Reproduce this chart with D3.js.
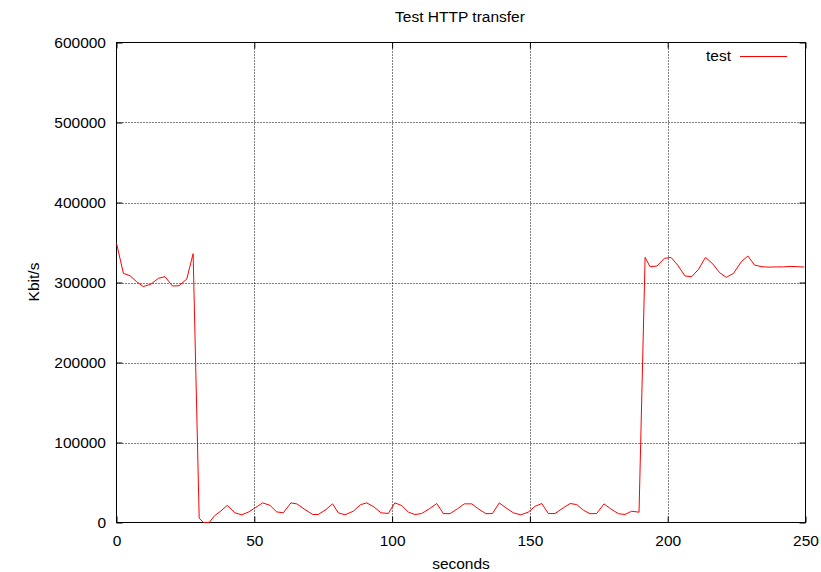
<!DOCTYPE html>
<html>
<head>
<meta charset="utf-8">
<script src="https://cdn.jsdelivr.net/npm/d3@7"></script>
<style>
  body { margin: 0; background: #fff; }
  svg { display: block; font-family: "Liberation Sans", Arial, sans-serif; }
</style>
</head>
<body>
<svg id="chart" width="821" height="572"></svg>
<script>
const title = "Test HTTP transfer";
const xLabel = "seconds";
const yLabel = "Kbit/s";
const seriesName = "test";
const xTicks = [0, 50, 100, 150, 200, 250];
const yTicks = [0, 100000, 200000, 300000, 400000, 500000, 600000];

const seconds = [0, 2.5, 4.9, 7.3, 9.7, 12.4, 15.2, 17.6, 20.3, 22.7, 25.5, 27.8, 30.0, 31.6, 33.6, 35.6, 37.9, 40.2, 43.0, 45.4, 47.8, 50.3, 53.0, 55.7, 58.1, 60.5, 63.3, 65.4, 68.4, 71.2, 73.2, 76.0, 78.4, 80.5, 82.9, 85.9, 88.6, 90.8, 93.4, 96.0, 98.6, 101.0, 103.5, 105.9, 108.3, 110.7, 113.5, 116.2, 118.6, 121.0, 123.7, 126.2, 128.9, 131.3, 134.0, 136.4, 138.9, 141.3, 144.0, 146.7, 149.4, 151.9, 154.3, 156.7, 159.1, 162.1, 164.6, 167.0, 169.4, 171.8, 174.2, 176.9, 179.3, 182.1, 184.5, 186.9, 189.6, 191.8, 193.6, 196.1, 198.8, 201.2, 203.6, 206.3, 208.7, 211.2, 213.7, 216.4, 218.8, 221.3, 223.9, 226.7, 229.1, 231.5, 234.2, 236.8, 239.5, 242.0, 244.4, 247.0, 249.6];
const kbits = [349000, 311500, 308500, 301000, 295000, 297700, 305200, 307300, 295600, 296000, 304400, 336000, 5500, 0, 0, 8500, 14500, 21500, 12100, 9600, 12900, 18300, 24500, 21500, 13300, 12100, 24500, 23300, 16200, 10000, 10000, 16200, 23300, 12100, 9600, 14100, 22400, 24500, 19500, 12100, 11300, 24500, 21200, 12900, 10000, 11200, 17100, 23700, 11200, 11000, 17100, 23300, 23300, 17100, 11000, 11200, 24500, 18300, 12100, 9600, 12900, 20300, 23700, 11200, 11200, 18300, 23700, 22400, 15400, 11000, 11200, 23300, 17100, 11000, 10000, 14100, 12900, 331400, 319700, 320600, 330200, 331400, 321800, 308100, 307300, 316500, 331400, 323100, 312300, 306500, 311500, 326000, 333100, 321800, 319700, 319200, 319500, 319500, 320100, 319800, 319300];

const svg = d3.select("#chart");
const L = 116.5, R = 805.5, T = 42.5, B = 522.5;
const x = d3.scaleLinear().domain([0, 250]).range([L, R]);
const y = d3.scaleLinear().domain([0, 600000]).range([B, T]);
const fs = 15.5;

// grid
const grid = svg.append("g").attr("stroke", "#000").attr("stroke-width", 1)
  .attr("stroke-dasharray", "1,2").attr("fill", "none");
xTicks.slice(1, -1).forEach(t => {
  grid.append("line").attr("x1", Math.round(x(t)) + 0.5).attr("x2", Math.round(x(t)) + 0.5)
    .attr("y1", T).attr("y2", B);
});
yTicks.slice(1, -1).forEach(t => {
  grid.append("line").attr("y1", Math.round(y(t)) + 0.5).attr("y2", Math.round(y(t)) + 0.5)
    .attr("x1", L).attr("x2", R);
});

// axes (inward ticks, mirrored)
const tk = 6;
const xb = svg.append("g").attr("transform", `translate(0,${B})`)
  .call(d3.axisBottom(x).tickValues(xTicks).tickSizeInner(-tk).tickSizeOuter(0).tickPadding(12).tickFormat(d3.format("d")));
const xt = svg.append("g").attr("transform", `translate(0,${T})`)
  .call(d3.axisTop(x).tickValues(xTicks).tickSizeInner(-tk).tickSizeOuter(0).tickFormat(""));
const yl = svg.append("g").attr("transform", `translate(${L},0)`)
  .call(d3.axisLeft(y).tickValues(yTicks).tickSizeInner(-tk).tickSizeOuter(0).tickPadding(10.5).tickFormat(d3.format("d")));
const yr = svg.append("g").attr("transform", `translate(${R},0)`)
  .call(d3.axisRight(y).tickValues(yTicks).tickSizeInner(-tk).tickSizeOuter(0).tickFormat(""));
[xb, xt, yl, yr].forEach(g => {
  g.selectAll(".domain").remove();
  g.selectAll("line").attr("stroke", "#000");
  g.selectAll("text").attr("font-size", fs).attr("fill", "#000")
    .attr("font-family", "Liberation Sans, Arial, sans-serif");
});

// border
svg.append("rect").attr("x", L).attr("y", T).attr("width", R - L).attr("height", B - T)
  .attr("fill", "none").attr("stroke", "#000").attr("stroke-width", 1);

// data line
const line = d3.line().x((d, i) => x(seconds[i])).y(d => y(d));
svg.append("path").datum(kbits).attr("d", line)
  .attr("fill", "none").attr("stroke", "#ff0000").attr("stroke-width", 1);

// legend
svg.append("text").attr("x", 731).attr("y", 61).attr("text-anchor", "end")
  .attr("font-size", fs).text(seriesName);
svg.append("line").attr("x1", 740).attr("x2", 787).attr("y1", 56.5).attr("y2", 56.5)
  .attr("stroke", "#ff0000").attr("stroke-width", 1);

// titles
svg.append("text").attr("x", 460).attr("y", 22).attr("text-anchor", "middle")
  .attr("font-size", fs).text(title);
svg.append("text").attr("x", 461).attr("y", 569).attr("text-anchor", "middle")
  .attr("font-size", fs).text(xLabel);
svg.append("text").attr("transform", "translate(39,282) rotate(-90)").attr("text-anchor", "middle")
  .attr("font-size", fs).text(yLabel);
</script>
</body>
</html>
